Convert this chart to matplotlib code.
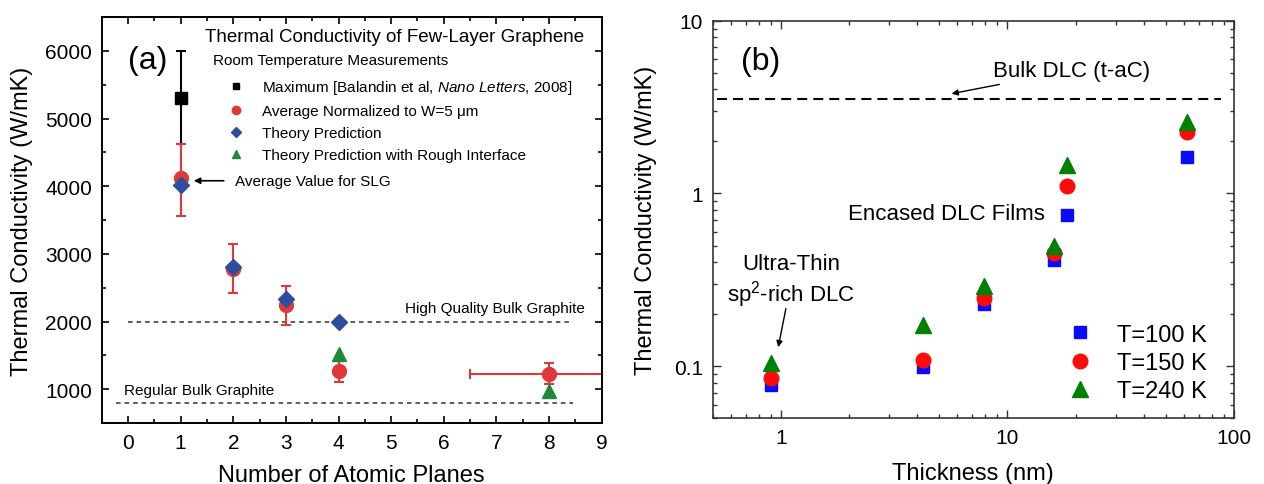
import matplotlib
matplotlib.use("Agg")
import matplotlib.pyplot as plt
import numpy as np
from matplotlib.ticker import MultipleLocator, FixedLocator, FuncFormatter, LogLocator, NullFormatter

plt.rcParams['font.family'] = ['Liberation Sans', 'DejaVu Sans']
plt.rcParams['mathtext.fontset'] = 'custom'
plt.rcParams['mathtext.rm'] = 'Liberation Sans'
plt.rcParams['mathtext.it'] = 'Liberation Sans:italic'

# ---- panel (a) data: thermal conductivity of few-layer graphene ----
max_x = [1]
max_y = [5300]
max_err_lo = [680]
max_err_hi = [700]

avg_x = [1, 2, 3, 4, 8]
avg_y = [4120, 2770, 2240, 1270, 1220]
avg_err_lo = [560, 350, 290, 170, 150]
avg_err_hi = [510, 380, 290, 140, 160]
avg_xerr_lo = [0, 0, 0, 0, 1.5]
avg_xerr_hi = [0, 0, 0, 0, 1.5]

theory_x = [1, 2, 3, 4]
theory_y = [4020, 2800, 2335, 2000]

rough_x = [4, 8]
rough_y = [1520, 980]

hq_graphite = 2000
reg_graphite = 800

# ---- panel (b) data: DLC films ----
thick = [0.9, 4.25, 7.85, 16.0, 18.4, 62.0]
k100 = [0.078, 0.099, 0.229, 0.41, 0.75, 1.63]
k150 = [0.085, 0.109, 0.250, 0.455, 1.10, 2.27]
k240 = [0.105, 0.173, 0.290, 0.50, 1.46, 2.60]
bulk_dlc = 3.5

W, H = 1264, 485
fig = plt.figure(figsize=(W / 100, H / 100), dpi=100)

# ================= panel (a) =================
ax = fig.add_axes([101.7 / W, 1 - 424 / H, 500 / W, 406 / H])

red = '#e03838'
blue = '#2d4e9e'
green = '#21883a'

ax.hlines(hq_graphite, 0, 8.45, colors='#333333', linestyles=(0, (3, 2.6)), lw=1.1)
ax.hlines(reg_graphite, -0.22, 8.45, colors='#333333', linestyles=(0, (3, 2.6)), lw=1.1)

ax.errorbar(max_x, max_y, yerr=[max_err_lo, max_err_hi], fmt='none', ecolor='black',
            elinewidth=1.5, capsize=3.5, capthick=1.5, zorder=2)
ax.errorbar(avg_x, avg_y, yerr=[avg_err_lo, avg_err_hi], xerr=[avg_xerr_lo, avg_xerr_hi],
            fmt='none', ecolor=red, elinewidth=1.5, capsize=3.5, capthick=1.5, zorder=2)

ax.plot(max_x, max_y, 's', color='black', ms=8, label='Maximum [Balandin et al, $\\it{Nano\\ Letters}$, 2008]', zorder=3)
ax.plot(avg_x, avg_y, 'o', color=red, ms=10, label='Average Normalized to W=5 \u03bcm', zorder=3)
ax.plot(theory_x, theory_y, 'D', color=blue, ms=8, label='Theory Prediction', zorder=4)
ax.plot(rough_x, rough_y, '^', color=green, ms=10, label='Theory Prediction with Rough Interface', zorder=3)

ax.set_xlim(-0.5, 9)
ax.set_ylim(500, 6500)
ax.xaxis.set_major_locator(MultipleLocator(1))
ax.xaxis.set_minor_locator(MultipleLocator(0.5))
ax.yaxis.set_major_locator(FixedLocator([1000, 2000, 3000, 4000, 5000, 6000]))
ax.yaxis.set_minor_locator(MultipleLocator(500))
ax.tick_params(which='both', direction='in', top=True, right=True, width=1.2)
ax.tick_params(which='major', length=5, labelsize=15, pad=7)
ax.tick_params(which='minor', length=3)
for s in ax.spines.values():
    s.set_linewidth(1.4)

ax.set_xlabel('Number of Atomic Planes', fontsize=17, labelpad=9)
ax.set_ylabel('Thermal Conductivity (W/mK)', fontsize=17)
ax.yaxis.set_label_coords(-0.137, 0.5)

ax.text(0.0, 5870, '(a)', fontsize=23, va='center', ha='left')
ax.text(1.46, 6210, 'Thermal Conductivity of Few-Layer Graphene', fontsize=13.5, va='center', ha='left')
ax.text(1.61, 5866, 'Room Temperature Measurements', fontsize=11, va='center', ha='left')
ax.legend(loc='upper left', bbox_to_anchor=(0.2534, 0.85), frameon=False, fontsize=11,
          markerscale=0.6, handlelength=1.0, handletextpad=1.2, labelspacing=0.53,
          borderpad=0, borderaxespad=0)

ax.annotate('Average Value for SLG', xy=(1.25, 4080), xytext=(2.03, 4080), fontsize=11,
            va='center', ha='left',
            arrowprops=dict(arrowstyle='-|>', color='black', lw=1.2, shrinkA=6, shrinkB=0,
                            mutation_scale=9))
ax.text(5.26, 2197, 'High Quality Bulk Graphite', fontsize=11, va='center', ha='left')
ax.text(-0.08, 990, 'Regular Bulk Graphite', fontsize=11, va='center', ha='left')

# ================= panel (b) =================
bx = fig.add_axes([712.7 / W, 1 - 419.3 / H, 521.3 / W, 397.6 / H])

bx.hlines(bulk_dlc, 0.52, 88, colors='black', linestyles=(0, (4.8, 2.9)), lw=1.5)

bx.plot(thick, k100, 's', color='#0a0aff', ms=8.5, label='T=100 K', zorder=3)
bx.plot(thick, k150, 'o', color='#ff0a0a', ms=10.5, label='T=150 K', zorder=4)
bx.plot(thick, k240, '^', color='#008000', ms=11.5, label='T=240 K', zorder=5)

bx.set_xscale('log')
bx.set_yscale('log')
bx.set_xlim(0.5, 100)
bx.set_ylim(0.05, 10)
plain = FuncFormatter(lambda v, p: '{:g}'.format(v))
bx.xaxis.set_major_formatter(plain)
bx.yaxis.set_major_formatter(plain)
bx.xaxis.set_minor_locator(LogLocator(base=10, subs=np.arange(2, 10)))
bx.yaxis.set_minor_locator(LogLocator(base=10, subs=np.arange(2, 10)))
bx.xaxis.set_minor_formatter(NullFormatter())
bx.yaxis.set_minor_formatter(NullFormatter())
bx.tick_params(which='both', direction='in', top=True, right=True, width=1.0, colors='#333333',
               labelcolor='black')
bx.tick_params(which='major', length=6, labelsize=15, pad=7)
bx.tick_params(which='minor', length=3)
for s in bx.spines.values():
    s.set_linewidth(1.2)
    s.set_color('#333333')

bx.set_xlabel('Thickness (nm)', fontsize=17, labelpad=11)
bx.set_ylabel('Thermal Conductivity (W/mK)', fontsize=17)
bx.yaxis.set_label_coords(-0.107, 0.5)

bx.text(0.667, 5.83, '(b)', fontsize=23, va='center', ha='left')
bx.annotate('Bulk DLC (t-aC)', xy=(5.67, 3.78), xytext=(8.65, 5.16), fontsize=16,
            va='center', ha='left',
            arrowprops=dict(arrowstyle='-|>', color='black', lw=1.0, shrinkA=3, shrinkB=0,
                            mutation_scale=9))
bx.text(1.97, 0.766, 'Encased DLC Films', fontsize=16, va='center', ha='left')
bx.text(1.107, 0.393, 'Ultra-Thin', fontsize=16, va='center', ha='center')
bx.text(1.107, 0.263, 'sp$^2$-rich DLC', fontsize=16, va='center', ha='center')
bx.annotate('', xy=(0.973, 0.129), xytext=(1.052, 0.2155),
            arrowprops=dict(arrowstyle='-|>', color='black', lw=1.0, shrinkA=0, shrinkB=0,
                            mutation_scale=9))
bx.legend(loc='upper left', bbox_to_anchor=(0.682, 0.238), frameon=False, fontsize=17,
          markerscale=1.0, handlelength=1.0, handletextpad=1.05, labelspacing=0.26,
          borderpad=0, borderaxespad=0)

fig.savefig('out.png', dpi=100)
